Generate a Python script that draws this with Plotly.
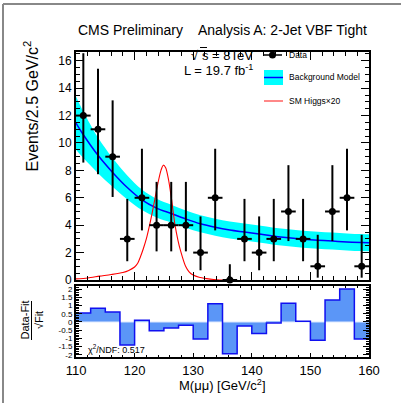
import plotly.graph_objects as go

# ---------------- data ----------------
bin_centers = [111.25, 113.75, 116.25, 118.75, 121.25, 123.75, 126.25, 128.75, 131.25, 133.75,
               136.25, 138.75, 141.25, 143.75, 146.25, 148.75, 151.25, 153.75, 156.25, 158.75]
events = [12, 11, 9, 3, 6, 4, 4, 4, 2, 6, 0, 3, 2, 3, 5, 3, 1, 5, 6, 1]
err_up = [4.55, 4.42, 4.11, 2.92, 3.58, 3.16, 3.16, 3.16, 2.64, 3.58,
          1.15, 2.92, 2.64, 2.92, 3.38, 2.92, 2.30, 3.38, 3.58, 2.30]
err_down = [3.43, 3.28, 2.94, 1.63, 2.38, 1.91, 1.91, 1.91, 1.29, 2.38,
            0.0, 1.63, 1.29, 1.63, 2.16, 1.63, 0.83, 2.16, 2.38, 0.83]
bin_half_width = 1.25

fit_mass = [110, 111.25, 113.75, 116.25, 118.75, 121.25, 123.75, 126.25, 128.75, 131.25, 133.75,
            136.25, 138.75, 141.25, 143.75, 146.25, 148.75, 151.25, 153.75, 156.25, 158.75, 160]
fit_values = [11.45, 10.6, 9.1, 7.85, 6.75, 5.85, 5.25, 4.85, 4.45, 4.1, 3.85,
              3.65, 3.5, 3.35, 3.2, 3.08, 2.98, 2.9, 2.84, 2.78, 2.73, 2.71]
fit_high = [13.4, 12.3, 10.4, 8.9, 7.63, 6.6, 5.93, 5.5, 5.08, 4.72, 4.47,
            4.27, 4.12, 3.97, 3.82, 3.7, 3.6, 3.52, 3.46, 3.4, 3.35, 3.33]
fit_low = [9.5, 8.9, 7.8, 6.8, 5.87, 5.1, 4.57, 4.2, 3.82, 3.48, 3.23,
           3.03, 2.88, 2.73, 2.58, 2.46, 2.36, 2.28, 2.22, 2.16, 2.11, 2.09]

higgs_mass = [110, 112, 114, 116, 118, 119, 120, 120.5, 121, 121.5, 122, 122.5, 123, 123.5, 124,
              124.5, 124.9, 125.3, 125.8, 126.3, 126.9, 127.4, 127.8, 128.7, 129.3, 130, 131,
              132.3, 133.5, 135]
higgs_values = [0.08, 0.15, 0.28, 0.4, 0.55, 0.7, 0.95, 1.2, 1.7, 2.3, 3.0, 3.9, 4.9, 6.0, 7.1,
                8.0, 8.38, 8.2, 7.3, 5.9, 4.0, 2.9, 2.2, 1.0, 0.6, 0.36, 0.2, 0.1, 0.04, 0.0]

pulls = [0.55, 0.84, 0.61, -1.41, 0.1, -0.53, -0.37, -0.2, -1.04, 1.12,
         -1.94, -0.24, -0.71, -0.06, 1.14, 0.04, -1.12, 1.35, 2.02, -1.04]
bin_edges = [110, 112.5, 115, 117.5, 120, 122.5, 125, 127.5, 130, 132.5, 135,
             137.5, 140, 142.5, 145, 147.5, 150, 152.5, 155, 157.5, 160]

x_ticks = [110, 120, 130, 140, 150, 160]
y_ticks = [0, 2, 4, 6, 8, 10, 12, 14, 16]
pull_ticks = [-2, -1.5, -1, -0.5, 0, 0.5, 1, 1.5, 2]
pull_ticktext = ["-2", "-1.5", "-1", "-0.5", "0", "0.5", "1", "1.5", "2"]

# ---------------- layout geometry (pixels) ----------------
W_FIG, H_FIG = 401, 403
L, R, T, B = 76, 369, 52, 357
PW, PH = R - L, B - T
main_bottom_px = 280
pull_top_px = 286


def px(x):
    return (x - L) / PW


def py(y):
    return (B - y) / PH


FONT = "Liberation Sans, Arial, Helvetica, sans-serif"

fig = go.Figure()

# background model band
fig.add_trace(go.Scatter(x=fit_mass, y=fit_low, mode="lines", line=dict(width=0, shape="spline"),
                         hoverinfo="skip", showlegend=False, xaxis="x", yaxis="y"))
fig.add_trace(go.Scatter(x=fit_mass, y=fit_high, mode="lines", line=dict(width=0, shape="spline"),
                         fill="tonexty", fillcolor="#00FFFF", hoverinfo="skip", showlegend=False,
                         xaxis="x", yaxis="y"))
# fit line
fig.add_trace(go.Scatter(x=fit_mass, y=fit_values, mode="lines",
                         line=dict(color="#0000FF", width=1.5, shape="spline"),
                         showlegend=False, xaxis="x", yaxis="y"))
# SM Higgs x20
fig.add_trace(go.Scatter(x=higgs_mass, y=higgs_values, mode="lines",
                         line=dict(color="#FF0000", width=1.1, shape="spline", smoothing=0.8),
                         showlegend=False, xaxis="x", yaxis="y"))
# data
fig.add_trace(go.Scatter(x=bin_centers, y=events, mode="markers",
                         marker=dict(color="black", size=7),
                         error_y=dict(type="data", symmetric=False, array=err_up, arrayminus=err_down,
                                      color="black", thickness=2, width=0),
                         error_x=dict(type="constant", value=bin_half_width, color="black",
                                      thickness=2, width=0),
                         cliponaxis=False, showlegend=False, xaxis="x", yaxis="y"))

# pull histogram
fig.add_trace(go.Bar(x=bin_centers, y=pulls, base=0, width=2.5,
                     marker=dict(color="#5B96F7", line=dict(width=0)),
                     showlegend=False, xaxis="x2", yaxis="y2"))
fig.add_trace(go.Scatter(x=[110, 160], y=[0, 0], mode="lines",
                         line=dict(color="#DCE8FF", width=1), showlegend=False,
                         xaxis="x2", yaxis="y2"))
fig.add_trace(go.Scatter(x=bin_edges, y=pulls + [pulls[-1]], mode="lines",
                         line=dict(color="#1010F0", width=1.5, shape="hv"),
                         showlegend=False, xaxis="x2", yaxis="y2"))

dom_main = [py(main_bottom_px), 1]
dom_pull = [0, py(pull_top_px)]

axis_common = dict(showline=True, linecolor="black", linewidth=2, mirror="allticks",
                   ticks="inside", tickcolor="black", showgrid=False, zeroline=False,
                   automargin=False,
                   tickfont=dict(family=FONT, size=12, color="black"))

fig.update_layout(
    width=W_FIG, height=H_FIG, autosize=False,
    margin=dict(l=L, r=W_FIG - R, t=T, b=H_FIG - B, pad=0),
    paper_bgcolor="white", plot_bgcolor="white",
    bargap=0,
    xaxis=dict(domain=[0, 1], range=[110, 160], anchor="y", showticklabels=False,
               tickvals=x_ticks, ticklen=8,
               minor=dict(dtick=2, ticklen=4, ticks="inside", tickcolor="black"),
               **axis_common),
    yaxis=dict(domain=dom_main, range=[0, 16.64], anchor="x", tickvals=y_ticks, ticklen=8,
               minor=dict(dtick=0.5, ticklen=4, ticks="inside", tickcolor="black"),
               **axis_common),
    xaxis2=dict(domain=[0, 1], range=[110, 160], anchor="y2", tickvals=x_ticks, ticklen=4,
                minor=dict(dtick=2, ticklen=2, ticks="inside", tickcolor="black"),
                **{**axis_common, "tickfont": dict(family=FONT, size=13, color="black")}),
    yaxis2=dict(domain=dom_pull, range=[-2.14, 2.2], anchor="x2", tickvals=pull_ticks,
                ticktext=pull_ticktext, ticklen=6,
                minor=dict(dtick=0.1, ticklen=3, ticks="inside", tickcolor="black"),
                **{**axis_common, "tickfont": dict(family=FONT, size=8, color="black")}),
)

ann = []


def add_text(text, x, y, size, xanchor="left", yanchor="middle", angle=0):
    ann.append(dict(text=text, x=px(x), y=py(y), xref="paper", yref="paper", showarrow=False,
                    xanchor=xanchor, yanchor=yanchor, textangle=angle,
                    font=dict(family=FONT, size=size, color="black")))


add_text("CMS Preliminary", 76, 30, 14, "left")
add_text("Analysis A: 2-Jet VBF Tight", 369, 30, 14, "right")
add_text("√", 201, 55, 13, "right")
add_text("s = 8TeV", 200, 55, 13, "left")
add_text("L = 19.7 fb<sup>-1</sup>", 255, 70, 13, "right")
add_text("Data", 287, 55, 8.5, "left")
add_text("Background Model", 287, 77.5, 8.5, "left")
add_text("SM Higgs×20", 287, 101, 8.5, "left")
add_text("χ<sup>2</sup>/NDF: 0.517", 86, 349, 9, "left")
add_text("M(μμ) [GeV/c<sup>2</sup>]", 222, 385, 13, "center")
add_text("Events/2.5 GeV/c<sup>2</sup>", 32, 38, 16, "center", "top", -90)
add_text("Data-Fit<br>√Fit", 31.5, 320, 11, "center", "middle", -90)
fig.update_layout(annotations=ann)

shapes = []
# canvas frame (top and left edges)
shapes.append(dict(type="line", xref="paper", yref="paper", x0=px(3), x1=px(401), y0=py(4), y1=py(4),
                   line=dict(color="#888888", width=2)))
shapes.append(dict(type="line", xref="paper", yref="paper", x0=px(3), x1=px(3), y0=py(4), y1=py(403),
                   line=dict(color="#888888", width=2)))
# fraction bar for pull title
shapes.append(dict(type="line", xref="paper", yref="paper", x0=px(31.5), x1=px(31.5), y0=py(301),
                   y1=py(340), line=dict(color="black", width=1)))
# overline of sqrt(s)
shapes.append(dict(type="line", xref="paper", yref="paper", x0=px(200), x1=px(207), y0=py(47.5),
                   y1=py(47.5), line=dict(color="black", width=1)))
# legend: Data
shapes.append(dict(type="line", xref="paper", yref="paper", x0=px(263), x1=px(282), y0=py(55), y1=py(55),
                   line=dict(color="black", width=1.5)))
shapes.append(dict(type="circle", xref="paper", yref="paper", x0=px(269), x1=px(276), y0=py(58.5),
                   y1=py(51.5), fillcolor="black", line=dict(color="black", width=0)))
# legend: Background model
shapes.append(dict(type="rect", xref="paper", yref="paper", x0=px(264), x1=px(283), y0=py(85), y1=py(70),
                   fillcolor="#00FFFF", line=dict(width=0)))
shapes.append(dict(type="line", xref="paper", yref="paper", x0=px(264), x1=px(283), y0=py(77.5),
                   y1=py(77.5), line=dict(color="#0000FF", width=1.5)))
# legend: SM Higgs
shapes.append(dict(type="line", xref="paper", yref="paper", x0=px(264), x1=px(283), y0=py(101),
                   y1=py(101), line=dict(color="#FF6060", width=1.5)))
fig.update_layout(shapes=shapes)

fig.write_html("out.html", config={"displayModeBar": False},
               post_script="document.body.style.margin='0';document.body.style.padding='0';")
